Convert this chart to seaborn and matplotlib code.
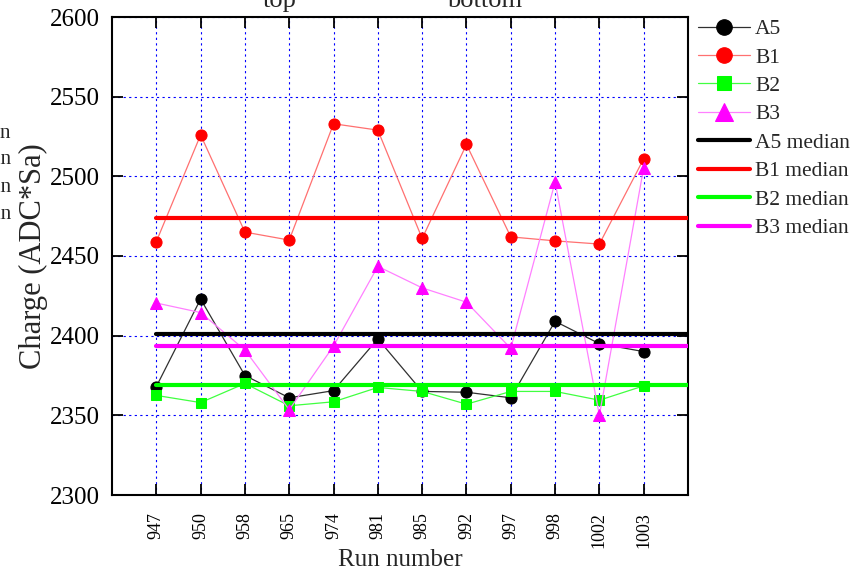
import matplotlib
matplotlib.use("Agg")
import matplotlib.pyplot as plt
import seaborn as sns
import pandas as pd
import numpy as np

runs = ["947", "950", "958", "965", "974", "981", "985", "992", "997", "998", "1002", "1003"]
a5 = [2368, 2423, 2375, 2361, 2365.5, 2398, 2365, 2364.5, 2361, 2409, 2395, 2390]
b1 = [2459, 2526, 2465, 2460, 2533, 2529, 2461, 2520, 2462, 2459.5, 2457.5, 2511]
b2 = [2362.5, 2358, 2370, 2356, 2358.5, 2367.5, 2365, 2357, 2365, 2365, 2359.5, 2368.5]
b3 = [2420.5, 2414.5, 2391, 2353.5, 2393.5, 2443.5, 2430, 2421, 2392, 2496.5, 2350, 2505.5]
medians = {"A5": 2401, "B1": 2474, "B2": 2369, "B3": 2393.5}

series_names = ["A5", "B1", "B2", "B3"]
series_vals = [a5, b1, b2, b3]
marker_cols = ["#000000", "#ff0000", "#00ff00", "#ff00ff"]
line_cols = ["#303030", "#ff7070", "#40ff40", "#ff80ff"]
markers = ["o", "o", "s", "^"]
msizes = [8, 8, 7, 9]

sns.set_style("white")
plt.rcParams["font.family"] = ["Liberation Serif", "DejaVu Serif"]

fig = plt.figure(figsize=(8.56, 5.74), dpi=100)
ax = fig.add_axes([112 / 856, 1 - 495 / 574, (688 - 112) / 856, (495 - 17) / 574])

pos = np.arange(len(runs))
for name, vals, mc, lc, mk, ms in zip(series_names, series_vals, marker_cols, line_cols, markers, msizes):
    df = pd.DataFrame({"pos": pos, "val": vals})
    sns.lineplot(data=df, x="pos", y="val", ax=ax, color=lc, lw=0.9,
                 marker=mk, markersize=ms, markerfacecolor=mc, markeredgecolor=mc,
                 label=name, zorder=3)

for name, mc in zip(series_names, marker_cols):
    df = pd.DataFrame({"pos": [pos[0], len(runs)], "val": [medians[name]] * 2})
    sns.lineplot(data=df, x="pos", y="val", ax=ax, color=mc, lw=3.0,
                 label=name + " median", zorder=4)

ax.set_xlim(-1, len(runs))
ax.set_ylim(2300, 2600)
ax.set_xticks(pos)
ax.set_xticklabels(runs, rotation=90, fontsize=13)
ax.set_yticks(np.arange(2300, 2601, 50))
ax.tick_params(axis="y", labelsize=18, pad=9)
ax.tick_params(direction="in", length=8, width=1.3, top=True, right=True, bottom=True, left=True, colors="black")
ax.tick_params(axis="x", pad=12)
ax.grid(True, color="#0000ff", linestyle=(0, (2, 3)), lw=0.8)
for sp in ax.spines.values():
    sp.set_color("black")
    sp.set_linewidth(1.5)

ax.set_xlabel("Run number", fontsize=18, labelpad=1)
ax.set_ylabel("Charge (ADC*Sa)", fontsize=22, labelpad=1)

leg = ax.legend(loc="upper left", bbox_to_anchor=(698 / 856, 1 - 19 / 574),
                bbox_transform=fig.transFigure, frameon=False,
                fontsize=15.5, handlelength=2.4, labelspacing=0.39, borderaxespad=0,
                borderpad=0, handletextpad=0.25, markerscale=1.4)

fig.text(280 / 856, 1 - 7 / 574, "top", fontsize=19, ha="center", va="baseline")
fig.text(485 / 856, 1 - 7 / 574, "bottom", fontsize=19, ha="center", va="baseline")
for yy, t in zip([133, 160, 188, 215], ["A5 median", "B1 median", "B2 median", "B3 median"]):
    fig.text(11 / 856, 1 - yy / 574, t, fontsize=15, ha="right", va="center")

fig.savefig("out.png", dpi=100)
